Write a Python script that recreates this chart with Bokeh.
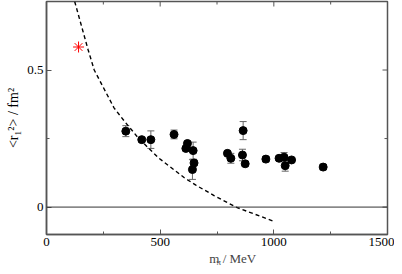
from bokeh.plotting import figure
from bokeh.layouts import column
from bokeh.models import (ColumnDataSource, Whisker, TeeHead, Span, Label,
                          FixedTicker, Range1d)
from bokeh.embed import file_html
from bokeh.resources import INLINE

# ---- data ----
mpi = [349, 419, 459, 561, 613, 620, 645, 649, 642, 796, 811, 865, 862, 874,
       965, 1023, 1045, 1050, 1078, 1217]
r2 = [0.277, 0.246, 0.246, 0.265, 0.214, 0.232, 0.206, 0.161, 0.137, 0.196,
      0.178, 0.279, 0.190, 0.158, 0.175, 0.178, 0.182, 0.151, 0.172, 0.146]
r2_err = [0.020, 0.008, 0.032, 0.016, 0.008, 0.008, 0.031, 0.010, 0.036, 0.008,
          0.018, 0.033, 0.021, 0.008, 0.010, 0.008, 0.017, 0.020, 0.008, 0.010]

star_mpi = [141]
star_r2 = [0.584]

curve_mpi = [124, 183, 210, 297, 341, 371, 406, 495, 605, 657, 737, 833, 1000]
curve_r2 = [0.75, 0.574, 0.50, 0.362, 0.315, 0.285, 0.25, 0.178, 0.108, 0.080,
            0.042, 0.0, -0.052]

x_ticks = [0, 500, 1000, 1500]
x_minor = [250, 750, 1250]
y_ticks = [0, 0.5]
y_minor = [0.25]

FONT = "Liberation Serif"
AX = "#555555"

W = 394
H1, H2 = 251, 15          # main plot + strip holding the x-axis title
ML, MR, MT, MB = 46, 7, 1, 17
X0, X1, Y0, Y1 = 0, 1500, -0.1, 0.75
fw = W - ML - MR
fh = H1 - MT - MB

p = figure(width=W, height=H1, x_range=(X0, X1), y_range=(Y0, Y1),
           output_backend="svg", toolbar_location=None,
           min_border_left=ML, min_border_right=MR,
           min_border_top=MT, min_border_bottom=MB)
p.grid.visible = False
p.outline_line_color = AX
p.outline_line_width = 1.5

def style_axis(ax, ticks, minor, overrides):
    ax.ticker = FixedTicker(ticks=ticks, minor_ticks=minor)
    ax.axis_line_color = AX
    ax.axis_line_width = 1.5
    ax.major_tick_line_color = AX
    ax.minor_tick_line_color = AX
    ax.major_tick_in = 5
    ax.major_tick_out = 0
    ax.minor_tick_in = 3
    ax.minor_tick_out = 0
    ax.major_label_text_font = FONT
    ax.major_label_text_font_size = "13px"
    ax.major_label_text_color = "black"
    ax.major_label_standoff = 3
    ax.major_label_overrides = overrides

style_axis(p.xaxis[0], x_ticks, x_minor, {t: str(t) for t in x_ticks})
style_axis(p.yaxis[0], y_ticks, y_minor, {0: "0", 0.5: "0.5"})
p.yaxis[0].axis_label = "<r\u2081\u00b2> / fm\u00b2"
p.yaxis[0].axis_label_text_font = FONT
p.yaxis[0].axis_label_text_font_size = "14px"
p.yaxis[0].axis_label_text_font_style = "normal"
p.yaxis[0].axis_label_text_color = "black"
p.yaxis[0].axis_label_standoff = 3

# mirrored inward ticks on top and right edges
xpx = (X1 - X0) / fw
ypx = (Y1 - Y0) / fh
tx = x_ticks + x_minor
tlen_x = [5 * ypx] * len(x_ticks) + [3 * ypx] * len(x_minor)
p.segment(x0=tx, y0=[Y1] * len(tx), x1=tx, y1=[Y1 - l for l in tlen_x],
          line_color=AX, line_width=1)
ty = y_ticks + y_minor
tlen_y = [5 * xpx] * len(y_ticks) + [3 * xpx] * len(y_minor)
p.segment(x0=[X1] * len(ty), y0=ty, x1=[X1 - l for l in tlen_y], y1=ty,
          line_color=AX, line_width=1)

# zero line
p.add_layout(Span(location=0, dimension="width", line_color="#333333",
                  line_width=1))

# theory curve
p.line(curve_mpi, curve_r2, line_color="black", line_width=1.4,
       line_dash="4 3")

# error bars
src = ColumnDataSource(dict(
    x=mpi, y=r2,
    upper=[v + e for v, e in zip(r2, r2_err)],
    lower=[v - e for v, e in zip(r2, r2_err)]))
p.add_layout(Whisker(source=src, base="x", upper="upper", lower="lower",
                     dimension="height", line_color="#666666", line_width=1,
                     upper_head=TeeHead(size=7, line_color="#666666",
                                        line_width=1),
                     lower_head=TeeHead(size=7, line_color="#666666",
                                        line_width=1)))
p.scatter("x", "y", source=src, size=8, fill_color="black",
          line_color="black")

# red star
p.scatter(star_mpi, star_r2, marker="asterisk", size=11, line_color="red",
          line_width=1)

# strip below with the x-axis title (m with subscript pi)
p2 = figure(width=W, height=H2, x_range=Range1d(0, W), y_range=Range1d(0, H2),
            output_backend="svg", toolbar_location=None,
            x_axis_type=None, y_axis_type=None,
            min_border_left=0, min_border_right=0,
            min_border_top=0, min_border_bottom=0)
p2.grid.visible = False
p2.outline_line_color = None

mid = 8.5
p2.add_layout(Label(x=188, y=mid, text="m", text_font=FONT,
                    text_font_size="13px", text_baseline="middle"))
p2.add_layout(Label(x=196.5, y=mid - 3.5, text="\u03c0", text_font=FONT,
                    text_font_size="9px", text_baseline="middle"))
p2.add_layout(Label(x=203.5, y=mid, text="/ MeV", text_font=FONT,
                    text_font_size="13px", text_baseline="middle"))

layout = column(p, p2, spacing=0)
open("out.html", "w").write(file_html(layout, INLINE))
